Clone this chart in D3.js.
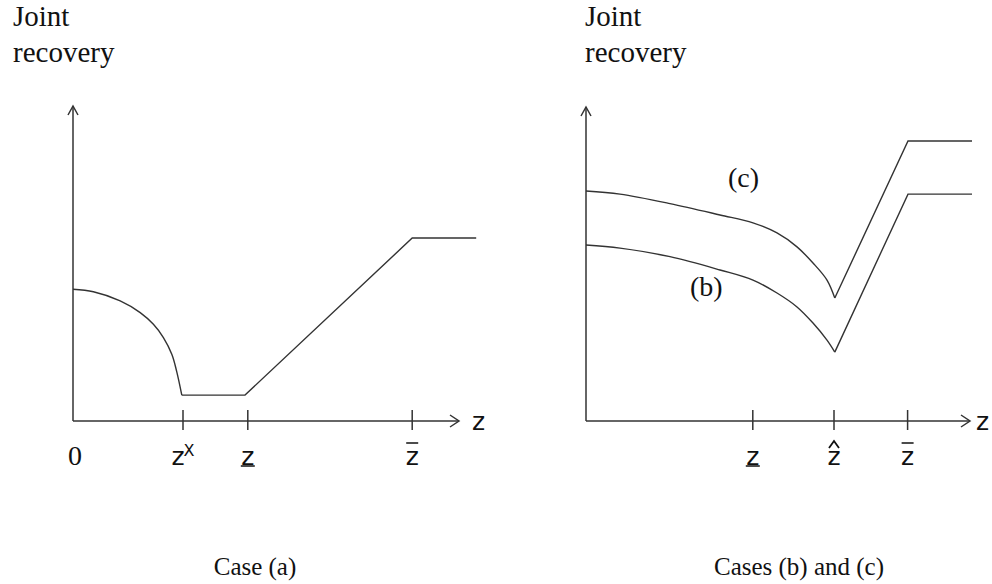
<!DOCTYPE html>
<html>
<head>
<meta charset="utf-8">
<script src="https://cdn.jsdelivr.net/npm/d3@7/dist/d3.min.js"></script>
<style>
  html, body { margin: 0; padding: 0; background: #fff; }
  svg { display: block; }
</style>
</head>
<body>
<svg id="chart" width="992" height="584"></svg>
<script>
// ---------------- DATA ----------------
// Case (a): curved decreasing part, then flat, rising, flat
const caseA_x_curve = [0, 0.51, 1.18, 1.68, 2.01, 2.26, 2.47, 2.59, 2.72];
const caseA_y_curve = [4.17, 4.09, 3.80, 3.43, 3.06, 2.64, 2.11, 1.58, 0.82];
const caseA_x_lin = [2.72, 4.3, 8.48, 10.08];
const caseA_y_lin = [0.82, 0.82, 5.79, 5.79];

// Case (c): curved decreasing part, kink at z-hat, rising, flat
const caseC_x_curve = [0, 0.85, 2.1, 3.35, 4.175, 4.775, 5.275, 5.675, 6.025, 6.22];
const caseC_y_curve = [7.28, 7.18, 6.88, 6.52, 6.27, 5.95, 5.51, 5.00, 4.46, 3.89];
const caseC_x_lin = [6.22, 8.05, 9.65];
const caseC_y_lin = [3.89, 8.86, 8.86];

// Case (b)
const caseB_x_curve = [0, 0.85, 2.1, 3.35, 4.175, 4.775, 5.275, 5.675, 6.025, 6.22];
const caseB_y_curve = [5.57, 5.47, 5.20, 4.78, 4.46, 4.05, 3.61, 3.10, 2.56, 2.18];
const caseB_x_lin = [6.22, 8.05, 9.65];
const caseB_y_lin = [2.18, 7.18, 7.18];

// tick labels
const ticksA = [
  {v: 0, label: "0", tick: false},
  {v: 2.75, label: "zX", tick: true},
  {v: 4.37, label: "z_", tick: true},
  {v: 8.48, label: "zbar", tick: true}
];
const ticksB = [
  {v: 4.17, label: "z_", tick: true},
  {v: 6.2, label: "zhat", tick: true},
  {v: 8.04, label: "zbar", tick: true}
];
const yTitle = ["Joint", "recovery"];
const captions = ["Case (a)", "Cases (b) and (c)"];
const curveLabels = [{t: "(c)", x: 3.55, y: 7.4}, {t: "(b)", x: 2.6, y: 3.95}];

// ---------------- DRAW ----------------
const svg = d3.select("#chart");
const ink = "#333";
const serif = "'Liberation Serif', 'Times New Roman', serif";
const sans = "'DejaVu Sans', Verdana, sans-serif";

const yScale = d3.scaleLinear().domain([0, 10]).range([421, 105]);
const xA = d3.scaleLinear().domain([0, 10]).range([73, 473]);
const xB = d3.scaleLinear().domain([0, 10]).range([586, 986]);

function zipPts(xs, ys) { return xs.map((x, i) => [x, ys[i]]); }

function drawPanel(x, xEnd, yTop, curves, ticks, titleX, caption, capX, zLabelX) {
  const g = svg.append("g");
  const x0 = x(0), y0 = yScale(0);
  g.append("line").attr("x1", x0).attr("y1", y0).attr("x2", x0).attr("y2", yTop)
    .attr("stroke", ink).attr("stroke-width", 1.5);
  g.append("line").attr("x1", x0).attr("y1", y0).attr("x2", xEnd).attr("y2", y0)
    .attr("stroke", ink).attr("stroke-width", 1.5);
  g.append("path").attr("d", `M${x0 - 5},${yTop + 9} L${x0},${yTop} L${x0 + 5},${yTop + 9}`)
    .attr("fill", "none").attr("stroke", ink).attr("stroke-width", 1.5);
  g.append("path").attr("d", `M${xEnd - 9},${y0 - 6} L${xEnd},${y0} L${xEnd - 9},${y0 + 6}`)
    .attr("fill", "none").attr("stroke", ink).attr("stroke-width", 1.5);
  g.append("text").attr("x", zLabelX).attr("y", y0 + 9).text("z")
    .attr("font-family", sans).attr("font-size", 25).attr("fill", "#111");

  const lineCurve = d3.line().x(d => x(d[0])).y(d => yScale(d[1])).curve(d3.curveCatmullRom.alpha(0.5));
  const lineLin = d3.line().x(d => x(d[0])).y(d => yScale(d[1]));
  curves.forEach(c => {
    g.append("path").attr("d", lineCurve(c.curve)).attr("fill", "none")
      .attr("stroke", ink).attr("stroke-width", 1.4);
    g.append("path").attr("d", lineLin(c.lin)).attr("fill", "none")
      .attr("stroke", ink).attr("stroke-width", 1.4);
  });

  ticks.forEach(t => {
    const px = x(t.v);
    if (t.tick) {
      g.append("line").attr("x1", px).attr("x2", px).attr("y1", y0 - 11).attr("y2", y0 + 9)
        .attr("stroke", ink).attr("stroke-width", 1.5);
    }
    const ly = 465;
    if (t.label === "0") {
      g.append("text").attr("x", px + 2).attr("y", ly).attr("text-anchor", "middle")
        .attr("font-family", serif).attr("font-size", 28).attr("fill", "#111").text("0");
    } else {
      const txt = g.append("text").attr("x", px).attr("y", ly).attr("text-anchor", "middle")
        .attr("font-family", sans).attr("font-size", 25).attr("fill", "#111");
      if (t.label === "zX") {
        txt.attr("x", px - 5).text("z");
        g.append("text").attr("x", px + 0.5).attr("y", 456).attr("font-family", sans)
          .attr("font-size", 16).attr("fill", "#111").text("X");
      } else {
        txt.text("z");
        if (t.label === "z_") {
          g.append("line").attr("x1", px - 7).attr("x2", px + 7).attr("y1", ly + 1).attr("y2", ly + 1)
            .attr("stroke", "#111").attr("stroke-width", 1.5);
        } else if (t.label === "zbar") {
          g.append("line").attr("x1", px - 6).attr("x2", px + 6).attr("y1", 443).attr("y2", 443)
            .attr("stroke", "#111").attr("stroke-width", 1.5);
        } else if (t.label === "zhat") {
          g.append("path").attr("d", `M${px - 5},${448} L${px},${441} L${px + 5},${448}`)
            .attr("fill", "none").attr("stroke", "#111").attr("stroke-width", 1.8);
        }
      }
    }
  });

  yTitle.forEach((s, i) => {
    g.append("text").attr("x", titleX).attr("y", 26 + i * 36).text(s)
      .attr("font-family", serif).attr("font-size", 29).attr("fill", "#111");
  });
  g.append("text").attr("x", capX).attr("y", 575).attr("text-anchor", "middle").text(caption)
    .attr("font-family", serif).attr("font-size", 25).attr("fill", "#111");
  return g;
}

drawPanel(xA, 459, 106,
  [{curve: zipPts(caseA_x_curve, caseA_y_curve), lin: zipPts(caseA_x_lin, caseA_y_lin)}],
  ticksA, 13, captions[0], 255, 472);

const gB = drawPanel(xB, 970, 107,
  [{curve: zipPts(caseC_x_curve, caseC_y_curve), lin: zipPts(caseC_x_lin, caseC_y_lin)},
   {curve: zipPts(caseB_x_curve, caseB_y_curve), lin: zipPts(caseB_x_lin, caseB_y_lin)}],
  ticksB, 585, captions[1], 799, 976);

curveLabels.forEach(l => {
  gB.append("text").attr("x", xB(l.x)).attr("y", yScale(l.y)).text(l.t)
    .attr("font-family", serif).attr("font-size", 28).attr("fill", "#111");
});
</script>
</body>
</html>
